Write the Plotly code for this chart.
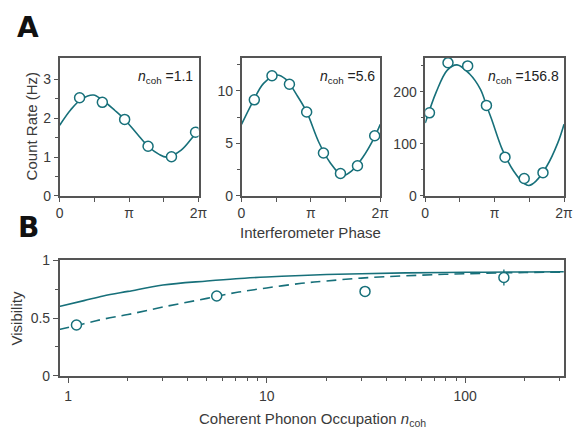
import math
import plotly.graph_objects as go

TEAL = "#17707a"
FRAME = "#555555"
TXT = "#3a3a3a"
PI = math.pi

# ---------------- Panel A data ----------------
a1_phase = [0.90, 1.93, 2.94, 4.00, 5.06, 6.15]
a1_rate = [2.53, 2.41, 1.97, 1.28, 1.01, 1.64]
a1_err = [0.12, 0.12, 0.10, 0.10, 0.09, 0.11]
a1_fit_phase = [0, 0.5, 1.0, 1.53, 1.93, 2.5, 2.94, 3.5, 4.0, 4.5, 4.85, 5.5, 6.0, 6.283]
a1_fit_rate = [1.82, 2.22, 2.50, 2.60, 2.47, 2.20, 1.97, 1.60, 1.28, 1.07, 1.00, 1.18, 1.50, 1.72]

a2_phase = [0.58, 1.38, 2.17, 2.95, 3.71, 4.48, 5.25, 6.03]
a2_rate = [9.13, 11.42, 10.61, 7.98, 4.08, 2.13, 2.87, 5.72]
a2_err = [0.3, 0.3, 0.3, 0.3, 0.25, 0.2, 0.2, 0.25]
a2_fit_phase = [0, 0.5, 1.0, 1.59, 2.0, 2.5, 2.95, 3.5, 4.0, 4.57, 5.0, 5.5, 6.0, 6.283]
a2_fit_rate = [6.8, 8.9, 10.7, 11.5, 11.1, 9.6, 7.98, 5.1, 3.2, 1.95, 2.4, 3.7, 5.5, 6.8]

a3_phase = [0.19, 1.03, 1.92, 2.77, 3.61, 4.48, 5.33]
a3_rate = [159.7, 256.0, 250.0, 174.0, 74.5, 33.5, 44.7]
a3_err = [5, 6, 6, 5, 4, 3, 3]
a3_fit_phase = [0, 0.5, 1.0, 1.44, 2.0, 2.5, 2.77, 3.0, 3.5, 4.0, 4.5, 4.69, 5.0, 5.5, 6.0, 6.283]
a3_fit_rate = [140, 200, 242, 252, 235, 205, 174, 148, 88, 48, 23, 20, 28, 57, 102, 138]

a_labels = ["1.1", "5.6", "156.8"]
a_yranges = [[0, 3.55], [0, 13.1], [0, 265]]
a_ytick = [[0, 1, 2, 3], [0, 5, 10], [0, 100, 200]]
a_yminor = [[0.5, 1.5, 2.5], [2.5, 7.5, 12.5], [50, 150, 250]]
phase_ticks = [0, PI, 2 * PI]
phase_text = ["0", "π", "2π"]
phase_minor = [PI / 2, 3 * PI / 2]

# ---------------- Panel B data ----------------
b_n = [1.1, 5.6, 31.3, 156.8]
b_vis = [0.44, 0.69, 0.73, 0.85]
b_err = [0.02, 0.02, 0.02, 0.07]
b_fit_n = [0.9, 1.2, 1.5, 2, 3, 5, 7, 10, 15, 20, 30, 50, 100, 200, 320]
b_fit_solid = [0.60, 0.65, 0.69, 0.73, 0.785, 0.82, 0.84, 0.855, 0.868, 0.876, 0.883, 0.89, 0.895, 0.898, 0.90]
b_fit_dashed = [0.40, 0.45, 0.49, 0.53, 0.595, 0.67, 0.72, 0.76, 0.80, 0.82, 0.845, 0.865, 0.883, 0.893, 0.897]

W, H = 575, 440


def xd(a, b):
    return [a / W, b / W]


def yd(top, bot):
    return [1 - bot / H, 1 - top / H]


fig = go.Figure()

a_data = [
    (a1_phase, a1_rate, a1_err, a1_fit_phase, a1_fit_rate),
    (a2_phase, a2_rate, a2_err, a2_fit_phase, a2_fit_rate),
    (a3_phase, a3_rate, a3_err, a3_fit_phase, a3_fit_rate),
]
a_xdom = [xd(57, 199), xd(243, 385), xd(431, 573)]
a_ydom = yd(52, 195)

marker = dict(symbol="circle", size=10, color="white", line=dict(color=TEAL, width=1.5))
tickfont = dict(family="Liberation Sans, Arial", size=14, color=TXT)

for i, (px, py, pe, fx, fy) in enumerate(a_data):
    k = "" if i == 0 else str(i + 1)
    fig.add_trace(go.Scatter(x=fx, y=fy, mode="lines", line=dict(color=TEAL, width=1.6, shape="spline", smoothing=1.0),
                             xaxis="x" + k, yaxis="y" + k, showlegend=False, hoverinfo="skip"))
    fig.add_trace(go.Scatter(x=px, y=py, mode="markers", marker=marker,
                             error_y=dict(type="data", array=pe, color=TEAL, thickness=1.3, width=0),
                             xaxis="x" + k, yaxis="y" + k, showlegend=False))
    axkw = dict(showline=True, mirror=True, linecolor=FRAME, linewidth=1.5, showgrid=False, zeroline=False,
                ticks="outside", ticklen=4, tickwidth=1, tickcolor=FRAME, tickfont=tickfont)
    fig.layout["xaxis" + k] = dict(domain=a_xdom[i], range=[0, 2 * PI], anchor="y" + k,
                                   tickmode="array", tickvals=phase_ticks, ticktext=phase_text,
                                   minor=dict(tickmode="array", tickvals=phase_minor, ticks="outside", ticklen=4,
                                              tickcolor=FRAME),
                                   **axkw)
    fig.layout["yaxis" + k] = dict(domain=a_ydom, range=a_yranges[i], anchor="x" + k,
                                   tickmode="array", tickvals=a_ytick[i],
                                   minor=dict(tickmode="array", tickvals=a_yminor[i], ticks="outside", ticklen=3,
                                              tickcolor=FRAME),
                                   **axkw)
    fig.add_annotation(xref="x" + k + " domain", yref="y" + k + " domain", x=0.975, y=0.86,
                       xanchor="right", yanchor="middle", showarrow=False,
                       text="<i>n</i><sub>coh</sub> =" + a_labels[i],
                       font=dict(family="Liberation Sans, Arial", size=14, color="#222"))

# Panel B
fig.add_trace(go.Scatter(x=b_fit_n, y=b_fit_solid, mode="lines", line=dict(color=TEAL, width=1.6, shape="spline"),
                         xaxis="x4", yaxis="y4", showlegend=False))
fig.add_trace(go.Scatter(x=b_fit_n, y=b_fit_dashed, mode="lines",
                         line=dict(color=TEAL, width=1.6, dash="10px,6px", shape="spline"),
                         xaxis="x4", yaxis="y4", showlegend=False))
fig.add_trace(go.Scatter(x=b_n, y=b_vis, mode="markers", marker=marker,
                         error_y=dict(type="data", array=b_err, color=TEAL, thickness=1.3, width=0),
                         xaxis="x4", yaxis="y4", showlegend=False))

b_minor = [2, 3, 4, 5, 6, 7, 8, 9, 20, 30, 40, 50, 60, 70, 80, 90, 200, 300]
axkwB = dict(showline=True, mirror=True, linecolor=FRAME, linewidth=1.5, showgrid=False, zeroline=False,
             ticks="outside", ticklen=5, tickwidth=1, tickcolor=FRAME, tickfont=tickfont)
fig.layout["xaxis4"] = dict(domain=xd(57, 572.7), type="log", range=[-0.043, 2.497], anchor="y4",
                            tickmode="array", tickvals=[1, 10, 100], ticktext=["1", "10", "100"],
                            ticklabelstandoff=2,
                            minor=dict(tickmode="array", tickvals=b_minor, ticks="outside", ticklen=3,
                                       tickcolor=FRAME),
                            **axkwB)
fig.layout["yaxis4"] = dict(domain=yd(261.7, 381.7), range=[0, 1], anchor="x4",
                            tickmode="array", tickvals=[0, 0.5, 1], ticktext=["0", "0.5", "1"],
                            minor=dict(tickmode="array", tickvals=[0.25, 0.75], ticks="outside", ticklen=3,
                                       tickcolor=FRAME),
                            **axkwB)

titlefont = dict(family="Liberation Sans, Arial", size=15, color=TXT)


def pa(text, x, y, angle=0, font=titlefont, xanchor="center"):
    fig.add_annotation(xref="paper", yref="paper", x=x / W, y=1 - y / H, text=text, showarrow=False,
                       textangle=angle, xanchor=xanchor, yanchor="middle", font=font)


pa("Count Rate (Hz)", 28.5, 123, angle=-90)
pa("Interferometer Phase", 314, 233)
pa("Visibility", 12.5, 322, angle=-90)
pa("Coherent Phonon Occupation <i>n</i><sub>coh</sub>", 316, 427)

letter = dict(family="DejaVu Sans", size=28, color="#111")
pa("<b>A</b>", 25, 20, font=letter)
pa("<b>B</b>", 25, 228, font=letter)

fig.update_layout(width=W, height=H, margin=dict(l=0, r=0, t=0, b=0),
                  paper_bgcolor="white", plot_bgcolor="white")

fig.write_html("out.html")
